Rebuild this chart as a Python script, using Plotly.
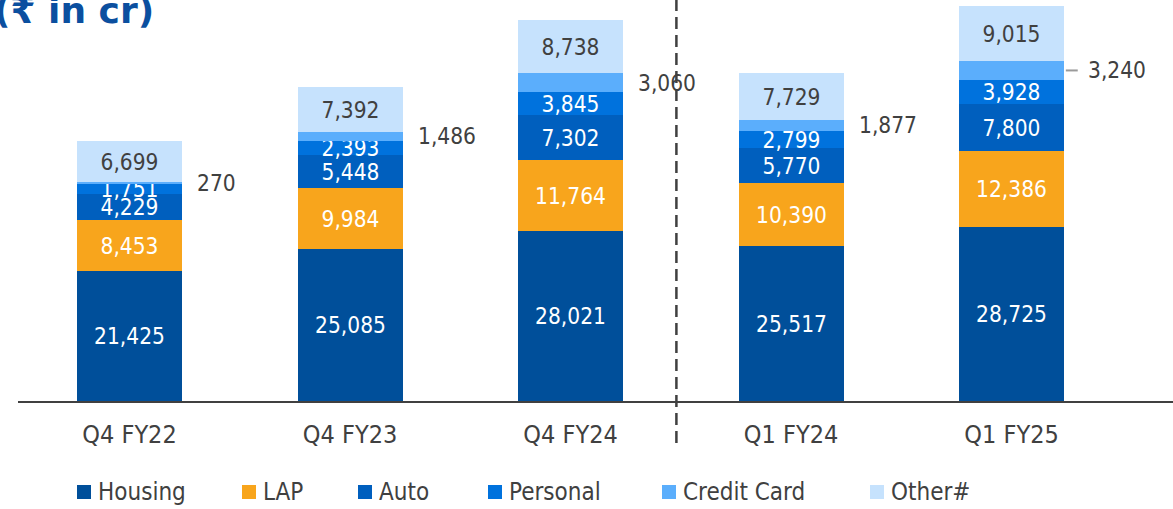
import plotly.graph_objects as go

categories = ["Q4 FY22", "Q4 FY23", "Q4 FY24", "Q1 FY24", "Q1 FY25"]
housing = [21425, 25085, 28021, 25517, 28725]
lap = [8453, 9984, 11764, 10390, 12386]
auto = [4229, 5448, 7302, 5770, 7800]
personal = [1751, 2393, 3845, 2799, 3928]
credit_card = [270, 1486, 3060, 1877, 3240]
other = [6699, 7392, 8738, 7729, 9015]

series_names = ["Housing", "LAP", "Auto", "Personal", "Credit Card", "Other#"]
series_values = [housing, lap, auto, personal, credit_card, other]
colors = ["#004F9A", "#F8A51C", "#005FBE", "#0072DD", "#5BAEFC", "#C6E2FD"]
text_colors = ["white", "white", "white", "white", "white", "#404040"]

FONT = "DejaVu Sans Condensed, DejaVu Sans, sans-serif"
W, H = 1173, 509
ML, MR, MT, MB = 18, 0, 0, 108
PW, PH = W - ML - MR, H - MT - MB
BAR_W = 0.476

x = list(range(len(categories)))

def pxx(px):
    return (px - ML) / PW

def pxy(py):
    return 1 - (py - MT) / PH

fig = go.Figure()
for name, vals, col, tcol in zip(series_names, series_values, colors, text_colors):
    show_text = name != "Credit Card"
    fig.add_trace(go.Bar(
        x=x, y=vals, name=name, width=BAR_W,
        marker=dict(color=col, line=dict(width=0)),
        text=[f"{v:,}" for v in vals] if show_text else None,
        textposition="inside" if show_text else "none",
        insidetextanchor="middle",
        constraintext="none",
        textangle=0,
        insidetextfont=dict(family=FONT, size=22.5, color=tcol),
        showlegend=False,
        hoverinfo="skip",
    ))

annotations = []
shapes = []

# credit card labels outside to the right
for i in x:
    base = housing[i] + lap[i] + auto[i] + personal[i]
    ymid = base + credit_card[i] / 2
    leader = i == len(x) - 1
    annotations.append(dict(
        x=i + BAR_W / 2, y=ymid, xref="x", yref="y",
        text=f"{credit_card[i]:,}", showarrow=False,
        xanchor="left", yanchor="middle",
        xshift=22 if leader else 13,
        font=dict(family=FONT, size=22.5, color="#404040"),
    ))
    if leader:
        shapes.append(dict(
            type="line", xref="x", yref="y",
            x0=i + BAR_W / 2 + 0.008, x1=i + BAR_W / 2 + 0.062,
            y0=ymid, y1=ymid,
            line=dict(color="#9A9A9A", width=2),
        ))

# divider
shapes.append(dict(
    type="line", xref="x", yref="paper",
    x0=2.48, x1=2.48, y0=pxy(443), y1=1,
    line=dict(color="#404040", width=2.5, dash="12px,6px"),
))

# manual legend
leg_x = [77, 242, 358, 488, 662, 870]
for lx, name, col in zip(leg_x, series_names, colors):
    shapes.append(dict(
        type="rect", xref="paper", yref="paper",
        x0=pxx(lx), x1=pxx(lx + 14), y0=pxy(499), y1=pxy(485),
        fillcolor=col, line=dict(width=0),
    ))
    annotations.append(dict(
        x=pxx(lx + 19), y=pxy(492), xref="paper", yref="paper",
        text=name, showarrow=False, xanchor="left", yanchor="middle",
        font=dict(family=FONT, size=24, color="#404040"),
    ))

# title fragment
annotations.append(dict(
    x=pxx(-8), y=pxy(33), xref="paper", yref="paper",
    text="(₹ in cr)", showarrow=False, xanchor="left", yanchor="bottom",
    font=dict(family="DejaVu Sans, sans-serif", size=36, color="#0B4F9F", weight="bold"),
))

fig.update_layout(
    width=W, height=H,
    margin=dict(l=ML, r=MR, t=MT, b=MB, pad=0),
    barmode="stack",
    bargap=0,
    plot_bgcolor="white", paper_bgcolor="white",
    showlegend=False,
    annotations=annotations,
    shapes=shapes,
    xaxis=dict(
        range=[-0.5057, 4.732], tickvals=x, ticktext=categories,
        showline=True, linecolor="#404040", linewidth=2,
        showgrid=False, zeroline=False, ticks="",
        ticklabelstandoff=10,
        tickfont=dict(family=FONT, size=25, color="#404040"),
        fixedrange=True,
    ),
    yaxis=dict(
        range=[0, 66063], visible=False, showgrid=False, zeroline=False,
        fixedrange=True,
    ),
    uniformtext=dict(mode=False),
)

fig.write_html(
    "out.html",
    config={"displayModeBar": False},
    post_script="document.body.style.margin='0';document.body.style.overflow='hidden';",
)
